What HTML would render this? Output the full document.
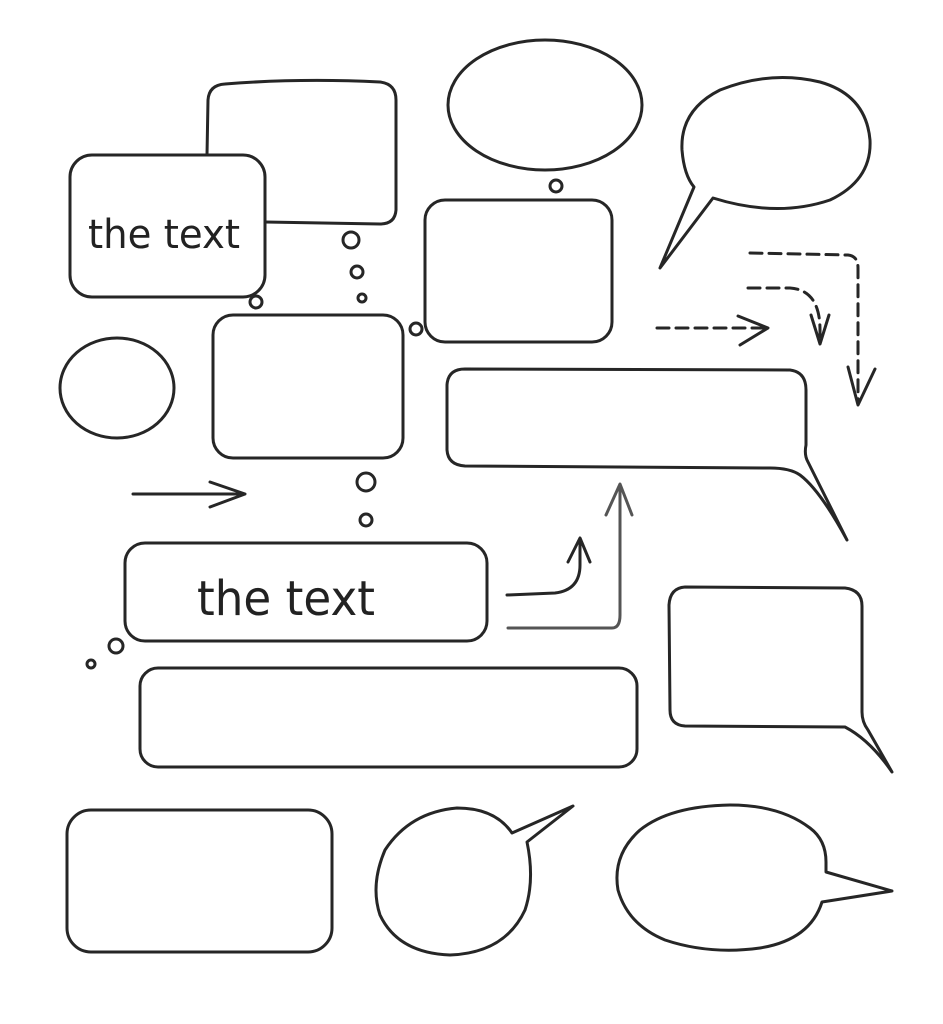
<!DOCTYPE html>
<html><head><meta charset="utf-8"><style>
html,body{margin:0;padding:0;background:#fff;}
svg{display:block}
text{font-family:"DejaVu Sans","Liberation Sans",sans-serif;fill:#222}
</style></head><body>
<svg width="943" height="1024" viewBox="0 0 943 1024" xmlns="http://www.w3.org/2000/svg">
<g fill="none" stroke="#262626" stroke-width="3" stroke-linecap="round" stroke-linejoin="round">
<path d="M225,84 Q300,78 380,82 Q396,84 396,100 L396,210 Q395,224 380,224 L265,222 M207,155 L208,100 Q209,85 225,84"/>
<rect x="70" y="155" width="195" height="142" rx="22" fill="#fff"/>
<ellipse cx="545" cy="105" rx="97" ry="65"/>
<circle cx="556" cy="186" r="6"/>
<path d="M713,198 Q777,218 830,200 Q872,180 870,140 Q866,95 820,82 Q770,70 720,90 Q680,110 682,150 Q684,175 694,187 L660,268 Z"/>
<rect x="425" y="200" width="187" height="142" rx="20"/>
<circle cx="351" cy="240" r="8"/><circle cx="357" cy="272" r="6"/><circle cx="362" cy="298" r="4"/>
<circle cx="256" cy="302" r="6"/><circle cx="416" cy="329" r="6"/>
<g stroke-dasharray="12,7">
<path d="M750,253 L848,255 Q858,256 858,268 L858,404"/>
<path d="M748,288 L790,288 Q820,290 820,330 L820,342"/>
<path d="M657,328 L765,328"/>
</g>
<path d="M848,367 L858,405 L875,369"/>
<path d="M811,315 L820,344 L829,315"/>
<path d="M738,316 L768,328 L740,345"/>
<ellipse cx="117" cy="388" rx="57" ry="50"/>
<rect x="213" y="315" width="190" height="143" rx="20"/>
<path d="M465,369 L790,370 Q806,372 806,390 L806,445 Q804,455 808,462 L847,540 Q820,490 800,475 Q790,468 770,468 L465,466 Q448,465 447,450 L447,385 Q448,369 465,369 Z"/>
<path d="M133,494 L243,494 M210,482 L245,494 L210,507"/>
<circle cx="366" cy="482" r="9"/><circle cx="366" cy="520" r="6"/>
<rect x="125" y="543" width="362" height="98" rx="20"/>
<path d="M507,595 L555,593 Q580,590 580,565 L580,540 M568,562 L580,538 L590,562"/>
<path d="M508,628 L612,628 Q620,628 620,615 L620,487 M606,515 L620,484 L632,515" stroke="#555"/>
<circle cx="116" cy="646" r="7"/><circle cx="91" cy="664" r="4"/>
<rect x="140" y="668" width="497" height="99" rx="18"/>
<path d="M685,587 L845,588 Q862,590 862,606 L862,712 Q862,722 868,730 L892,772 Q870,740 845,727 L685,726 Q670,725 670,710 L669,605 Q670,588 685,587 Z"/>
<rect x="67" y="810" width="265" height="142" rx="24"/>
<path d="M512,833 Q495,808 457,808 Q410,812 385,850 Q370,885 380,915 Q398,953 450,955 Q505,953 525,910 Q535,880 527,842 L573,806 L512,833 Z"/>
<path d="M826,862 Q826,840 810,828 Q780,805 730,805 Q670,806 640,830 Q612,855 618,890 Q628,925 665,940 Q710,955 760,948 Q810,940 822,902 L892,891 L826,872 Z"/>
</g>
<text x="88" y="248" font-size="40" textLength="152" lengthAdjust="spacingAndGlyphs">the text</text>
<text x="197" y="615" font-size="48" textLength="178" lengthAdjust="spacingAndGlyphs">the text</text>
</svg>
</body></html>
